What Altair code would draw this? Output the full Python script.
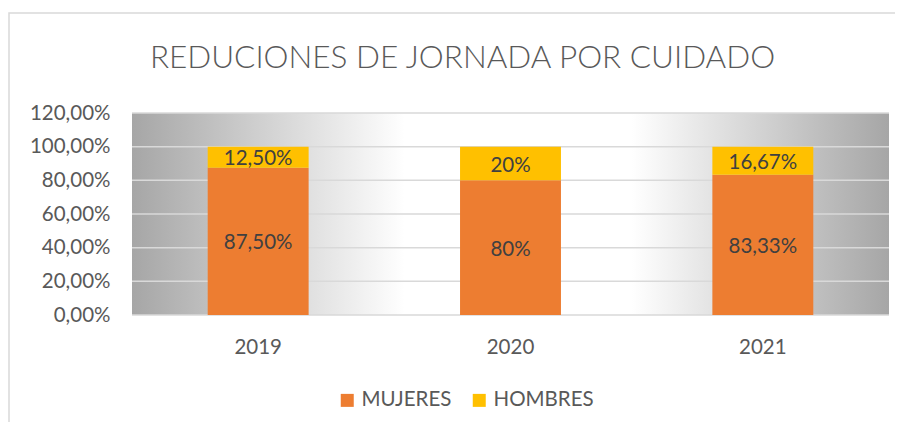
import altair as alt
import pandas as pd

# ---- data ----
years = ["2019", "2020", "2021"]
series = ["MUJERES", "HOMBRES"]
mujeres = [87.5, 80.0, 83.33]
hombres = [12.5, 20.0, 16.67]
mujeres_labels = ["87,50%", "80%", "83,33%"]
hombres_labels = ["12,50%", "20%", "16,67%"]
colors = ["#ED7D31", "#FFC000"]
y_ticks = [0, 20, 40, 60, 80, 100, 120]
title_text = "REDUCIONES DE JORNADA POR CUIDADO"

rows = []
for i, yr in enumerate(years):
    rows.append({"year": yr, "serie": series[0], "value": mujeres[i], "label": mujeres_labels[i], "ord": 0})
    rows.append({"year": yr, "serie": series[1], "value": hombres[i], "label": hombres_labels[i], "ord": 1})
df = pd.DataFrame(rows)
ticks_df = pd.DataFrame({"t": y_ticks})
one = pd.DataFrame({"a": [0]})

W, H = 757, 202
FONT = "Lato"
LBL = 20.5

yscale = alt.Scale(domain=[0, 120], nice=False)
xscale = alt.Scale(domain=years, paddingInner=0.6, paddingOuter=0.3)

x_axis = alt.Axis(title=None, domain=False, ticks=False, tickSize=0, labelAngle=0,
                  labelPadding=38, labelBaseline="alphabetic", labelFontSize=LBL,
                  labelColor="#595959", labelFont=FONT, grid=False)
y_axis = alt.Axis(title=None, values=y_ticks, domain=False, ticks=False, tickSize=0,
                  grid=False, labelPadding=22, labelFontSize=LBL, labelColor="#595959",
                  labelFont=FONT,
                  labelExpr="replace(format(datum.value, '.2f'), '.', ',') + '%'")

gradient = alt.Gradient(
    gradient="linear",
    stops=[
        alt.GradientStop(color="#a6a6a6", offset=0),
        alt.GradientStop(color="#ffffff", offset=0.36),
        alt.GradientStop(color="#ffffff", offset=0.66),
        alt.GradientStop(color="#a6a6a6", offset=1),
    ],
    x1=0, x2=1, y1=0, y2=0,
)

bg = alt.Chart(one).mark_rect(fill=gradient).encode(
    x=alt.value(0), x2=alt.value(W), y=alt.value(0), y2=alt.value(H)
)

grid = alt.Chart(ticks_df).mark_rule(color="#d9d9d9", strokeWidth=1.5).encode(
    y=alt.Y("t:Q", scale=yscale, axis=y_axis)
)

bars = alt.Chart(df).mark_bar().encode(
    x=alt.X("year:N", sort=years, scale=xscale, axis=x_axis),
    y=alt.Y("value:Q", stack="zero", scale=yscale, axis=y_axis),
    color=alt.Color(
        "serie:N",
        scale=alt.Scale(domain=series, range=colors),
        legend=alt.Legend(
            title=None, orient="none", legendX=205, legendY=277, direction="horizontal",
            symbolType="square", symbolSize=169, symbolStrokeWidth=0,
            labelFontSize=LBL, labelColor="#595959", labelFont=FONT,
            columnPadding=17, labelOffset=4, padding=0,
        ),
    ),
    order=alt.Order("ord:Q"),
)

labels = alt.Chart(df).transform_stack(
    stack="value", as_=["v0", "v1"], groupby=["year"], sort=[alt.SortField("ord")]
).transform_calculate(
    mid="(datum.v0 + datum.v1) / 2"
).mark_text(font=FONT, fontSize=LBL, color="#404040", baseline="middle", dy=2).encode(
    x=alt.X("year:N", sort=years, scale=xscale, axis=x_axis),
    y=alt.Y("mid:Q", scale=yscale, axis=y_axis),
    text="label:N",
)

frame = alt.Chart(one).mark_rect(fillOpacity=0, stroke="#d9d9d9", strokeWidth=1.5).encode(
    x=alt.value(-123), x2=alt.value(W + 60), y=alt.value(-100), y2=alt.value(H + 200)
)

chart = alt.layer(frame, bg, grid, bars, labels).properties(
    width=W,
    height=H,
    autosize=alt.AutoSizeParams(type="none"),
    padding={"left": 124, "top": 105, "right": 6, "bottom": 107},
    title=alt.TitleParams(
        text=title_text, fontSize=31.5, font=FONT, color="#595959", fontWeight=300,
        anchor="middle", frame="group", offset=-87, baseline="alphabetic", dx=-48,
    ),
).configure_view(strokeWidth=0)

chart.save("out.html", embed_options={"renderer": "svg", "actions": False})
